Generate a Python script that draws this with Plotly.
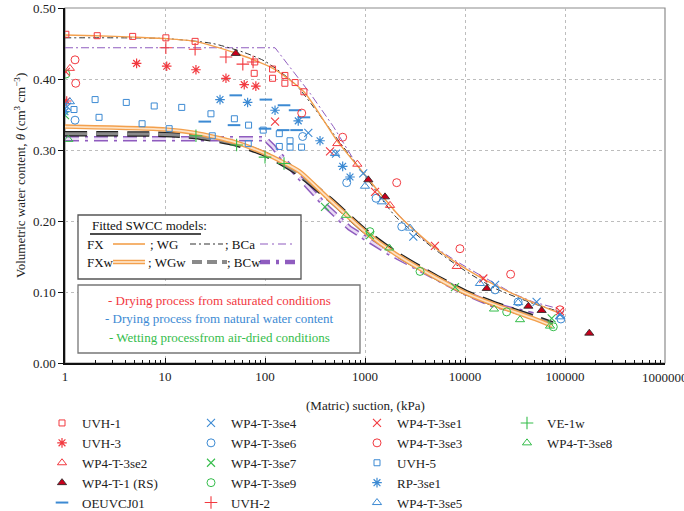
import plotly.graph_objects as go

# ---------------- data ----------------
uvh1_x = [1.02, 2.1, 4.75, 10.2, 20, 79, 78, 119, 119, 158, 158, 200, 245]
uvh1_y = [0.463, 0.461, 0.460, 0.458, 0.453, 0.424, 0.408, 0.414, 0.401, 0.405, 0.394, 0.395, 0.382]

uvh3_x = [1.04, 5.2, 10.4, 20.4, 40.7, 62, 81]
uvh3_y = [0.369, 0.422, 0.418, 0.413, 0.401, 0.392, 0.390]

se2_x = [1.12, 528, 838, 1780, 8260]
se2_y = [0.415, 0.309, 0.280, 0.222, 0.136]

rs_x = [51, 1080, 1585, 16500, 43000, 58400, 175000]
rs_y = [0.436, 0.258, 0.234, 0.105, 0.080, 0.074, 0.042]

oe_x = [25, 51, 49, 102, 100, 155, 152, 200, 207, 245]
oe_y = [0.340, 0.377, 0.335, 0.371, 0.330, 0.363, 0.328, 0.356, 0.328, 0.346]

se4_x = [1.05, 271, 513, 960, 3040, 20000, 52000, 89000]
se4_y = [0.361, 0.324, 0.295, 0.267, 0.178, 0.110, 0.086, 0.068]

se6_x = [1.26, 238, 656, 1290, 2330, 20000, 34000, 91000]
se6_y = [0.342, 0.319, 0.254, 0.232, 0.192, 0.103, 0.086, 0.062]

se7_x = [1.0, 398, 1120, 7940, 73600]
se7_y = [0.349, 0.220, 0.180, 0.107, 0.063]

se9_x = [1.02, 1120, 3550, 26100, 76400]
se9_y = [0.407, 0.185, 0.129, 0.072, 0.051]

uvh2_x = [10.2, 20, 40.7, 60, 76]
uvh2_y = [0.444, 0.442, 0.431, 0.421, 0.424]

se1_x = [1.02, 126, 447, 1260, 5000, 15250, 89000]
se1_y = [0.410, 0.340, 0.298, 0.241, 0.165, 0.119, 0.073]

se3_x = [1.26, 1.28, 233, 598, 2075, 8900, 28600, 89000]
se3_y = [0.427, 0.394, 0.352, 0.318, 0.254, 0.161, 0.125, 0.075]

uvh5_x = [1.23, 2.0, 2.19, 4.1, 5.9, 7.8, 11, 14.7, 28.8, 29.7, 49.4, 68.5, 68, 96, 139, 139, 178, 178, 232]
uvh5_y = [0.357, 0.371, 0.346, 0.367, 0.337, 0.362, 0.330, 0.360, 0.351, 0.320, 0.344, 0.335, 0.309, 0.328, 0.323, 0.305, 0.313, 0.304, 0.304]

rp_x = [1.0, 35.5, 67, 126, 215, 355, 598, 708]
rp_y = [0.354, 0.371, 0.367, 0.356, 0.341, 0.313, 0.277, 0.262]

se5_x = [1.12, 501, 1000, 1470, 2820, 14100, 34000, 89000]
se5_y = [0.368, 0.295, 0.249, 0.227, 0.190, 0.112, 0.085, 0.065]

ve_x = [20.4, 52, 100, 155]
ve_y = [0.320, 0.307, 0.290, 0.281]

se8_x = [1.08, 646, 1750, 19500, 35500, 70800]
se8_y = [0.315, 0.208, 0.162, 0.076, 0.061, 0.052]

# fitted SWCC curves
fx_x = [1, 2, 5, 10, 20, 50, 120, 245, 520, 1040, 2240, 4820, 10400, 22400, 48000, 89000]
fx_y = [0.462, 0.461, 0.459, 0.457, 0.453, 0.437, 0.415, 0.382, 0.314, 0.262, 0.206, 0.164, 0.132, 0.106, 0.085, 0.070]

wg_x = [1, 10, 30, 60, 100, 200, 500, 1000, 2000, 5000, 10000, 20000, 50000, 90000]
wg_y = [0.458, 0.457, 0.450, 0.438, 0.425, 0.393, 0.320, 0.264, 0.207, 0.160, 0.130, 0.105, 0.083, 0.072]

bca_x = [1, 126, 166, 282, 483, 830, 1000, 2000, 4000, 8260, 14100, 30000, 48000, 89000]
bca_y = [0.444, 0.444, 0.422, 0.380, 0.333, 0.279, 0.265, 0.213, 0.172, 0.143, 0.124, 0.098, 0.086, 0.076]

fxw_x = [1, 10, 20, 50, 100, 220, 414, 1000, 2000, 5000, 10000, 20000, 50000, 75000]
fxw_y = [0.333, 0.329, 0.324, 0.311, 0.295, 0.270, 0.234, 0.185, 0.154, 0.121, 0.099, 0.082, 0.062, 0.052]

wgw_x = [1, 10, 20, 50, 100, 200, 450, 1000, 2000, 5000, 10000, 20000, 50000, 75000]
wgw_y = [0.323, 0.322, 0.319, 0.309, 0.294, 0.270, 0.230, 0.186, 0.155, 0.122, 0.100, 0.083, 0.064, 0.055]

bcw_x = [1, 100, 120, 200, 400, 700, 1650, 4140, 9550, 19000, 48000]
bcw_y = [0.316, 0.316, 0.305, 0.268, 0.222, 0.190, 0.157, 0.126, 0.100, 0.082, 0.068]

x_tick_vals = [1, 10, 100, 1000, 10000, 100000, 1000000]
x_tick_text = ["1", "10", "100", "1000", "10000", "100000", "1000000"]
y_tick_vals = [0.0, 0.1, 0.2, 0.3, 0.4, 0.5]

# ---------------- styles ----------------
RED = "#f2393f"
BLUE = "#3c8ad3"
GREEN = "#35bd4b"
DARKRED = "#c8001c"
ORANGE = "#f3a04d"
ORANGE_L = "#fde2c4"
PURPLE = "#8f5cbf"
PURPLE_L = "#eadcf5"
FONT = "Liberation Serif"
W, H = 684, 511

fig = go.Figure()

def curve(x, y, color, width, dash="solid", shape="spline"):
    fig.add_trace(go.Scatter(x=x, y=y, mode="lines",
                             line=dict(color=color, width=width, dash=dash, shape=shape, smoothing=0.6),
                             showlegend=False, hoverinfo="skip"))

# wetting (thick outlined) curves
curve(bcw_x, bcw_y, PURPLE, 5.5, "14px,6px,3px,6px", "linear")
curve(bcw_x, bcw_y, PURPLE_L, 2.5, "14px,6px,3px,6px", "linear")
curve(wgw_x, wgw_y, "#222222", 5.5, "22px,9px")
curve(wgw_x, wgw_y, "#8a8a8a", 3, "22px,9px")
curve(fxw_x, fxw_y, ORANGE, 4.5)
curve(fxw_x, fxw_y, ORANGE_L, 1.8)
# drying curves
curve(bca_x, bca_y, PURPLE, 1, "8px,3px,2px,3px", "linear")
curve(wg_x, wg_y, "#333333", 1, "6px,3px,2px,3px")
curve(fx_x, fx_y, ORANGE, 1.4)

def pts(x, y, name, symbol, color, legend, size=7, lw=1.0, lcolor=None):
    fig.add_trace(go.Scatter(
        x=x, y=y, mode="markers", name=name, legend=legend,
        marker=dict(symbol=symbol, size=size, color=color,
                    line=dict(width=lw, color=lcolor if lcolor else color)),
    ))

# column 1
pts(uvh1_x, uvh1_y, "UVH-1", "square-open", RED, "legend", 6)
pts(uvh3_x, uvh3_y, "UVH-3", "asterisk-open", RED, "legend", 8, 1.2)
pts(se2_x, se2_y, "WP4-T-3se2", "triangle-up-open", RED, "legend", 8)
pts(rs_x, rs_y, "WP4-T-1 (RS)", "triangle-up", DARKRED, "legend", 8, 0.8, "#222222")
pts(oe_x, oe_y, "OEUVCJ01", "line-ew-open", BLUE, "legend", 9, 2)
# column 2
pts(se4_x, se4_y, "WP4-T-3se4", "x-thin-open", BLUE, "legend2", 8, 1.1)
pts(se6_x, se6_y, "WP4-T-3se6", "circle-open", BLUE, "legend2", 8)
pts(se7_x, se7_y, "WP4-T-3se7", "x-thin-open", GREEN, "legend2", 8, 1.1)
pts(se9_x, se9_y, "WP4-T-3se9", "circle-open", GREEN, "legend2", 8)
pts(uvh2_x, uvh2_y, "UVH-2", "cross-thin-open", RED, "legend2", 9, 1.1)
# column 3
pts(se1_x, se1_y, "WP4-T-3se1", "x-thin-open", RED, "legend3", 8, 1.1)
pts(se3_x, se3_y, "WP4-T-3se3", "circle-open", RED, "legend3", 8)
pts(uvh5_x, uvh5_y, "UVH-5", "square-open", BLUE, "legend3", 6)
pts(rp_x, rp_y, "RP-3se1", "asterisk-open", BLUE, "legend3", 8, 1.2)
pts(se5_x, se5_y, "WP4-T-3se5", "triangle-up-open", BLUE, "legend3", 8)
# column 4
pts(ve_x, ve_y, "VE-1w", "cross-thin-open", GREEN, "legend4", 9, 1.1)
pts(se8_x, se8_y, "WP4-T-3se8", "triangle-up-open", GREEN, "legend4", 8)

# ---------------- layout helpers (pixel -> paper) ----------------
L, R, T, B = 65, 665, 8, 363
def px(x):
    return (x - L) / (R - L)
def py(y):
    return (B - y) / (B - T)

shapes = []
annotations = []

# plot frame (gray top / right)
shapes.append(dict(type="rect", xref="paper", yref="paper", x0=0, x1=1, y0=0, y1=1,
                   line=dict(color="#8c8c8c", width=1.2), layer="below"))

# last x tick label (sits on the plot edge and runs past the page edge, as in the reference)
annotations.append(dict(x=1.0, y=py(377), xref="paper", yref="paper", text=x_tick_text[-1],
                        showarrow=False, xanchor="center", yanchor="middle", font=dict(size=13, color="#222")))

# axis titles
annotations.append(dict(x=px(365), y=py(405), xref="paper", yref="paper", text="(Matric) suction, (kPa)",
                        showarrow=False, xanchor="center", yanchor="middle", font=dict(size=13, color="#222")))
annotations.append(dict(x=px(20), y=py(176), xref="paper", yref="paper",
                        text="Volumetric water content, <i>θ</i> (cm<sup>3</sup> cm<sup>−3</sup>)",
                        textangle=-90, showarrow=False, xanchor="center", yanchor="middle",
                        font=dict(size=13, color="#222")))

# box 1: fitted models
shapes.append(dict(type="rect", xref="paper", yref="paper", x0=px(78), x1=px(301), y0=py(279), y1=py(215),
                   line=dict(color="#555555", width=1.3), fillcolor="white", layer="above"))
annotations.append(dict(x=px(90), y=py(225), xref="paper", yref="paper", text="Fitted SWCC models:",
                        showarrow=False, xanchor="left", yanchor="middle", font=dict(size=13, color="#111")))
shapes.append(dict(type="line", xref="paper", yref="paper", x0=px(90), x1=px(201), y0=py(234), y1=py(234),
                   line=dict(color="#111", width=1.4)))

row1, row2 = 244, 262
def txt(x, y, s):
    annotations.append(dict(x=px(x), y=py(y), xref="paper", yref="paper", text=s, showarrow=False,
                            xanchor="left", yanchor="middle", font=dict(size=13, color="#111")))
def sample(x0, x1, y, color, width, dash="solid"):
    shapes.append(dict(type="line", xref="paper", yref="paper", x0=px(x0), x1=px(x1), y0=py(y), y1=py(y),
                       line=dict(color=color, width=width, dash=dash)))

txt(85, row1, "FX")
sample(113, 145, row1, ORANGE, 1.6)
txt(148, row1, "; WG")
sample(190, 223, row1, "#333333", 1.1, "6px,3px,2px,3px")
txt(223, row1, "; BCa")
sample(260, 295, row1, PURPLE, 1.1, "8px,4px,2px,4px")

txt(85, row2, "FXw")
sample(113, 145, row2, ORANGE, 4.5)
sample(113, 145, row2, ORANGE_L, 1.8)
txt(146, row2, "; WGw")
sample(192, 227, row2, "#8a8a8a", 4, "10px,5px")
txt(225, row2, "; BCw")
sample(260, 297, row2, PURPLE, 4.5, "10px,6px,3px,6px")

# box 2: process descriptions
shapes.append(dict(type="rect", xref="paper", yref="paper", x0=px(78), x1=px(360), y0=py(353), y1=py(285),
                   line=dict(color="#777777", width=1.3), fillcolor="white", layer="above"))
for yy, s, c in [(300, "- Drying process from saturated conditions", RED),
                 (318.5, "- Drying process from natural water content", BLUE),
                 (337, "- Wetting processfrom air-dried conditions", GREEN)]:
    annotations.append(dict(x=px(219), y=py(yy), xref="paper", yref="paper", text=s, showarrow=False,
                            xanchor="center", yanchor="middle", font=dict(size=13, color=c)))

leg_common = dict(orientation="v", xref="container", yref="container", yanchor="top", y=1 - 408 / H,
                  xanchor="left", font=dict(size=13, family=FONT, color="#222"), bgcolor="rgba(0,0,0,0)",
                  itemsizing="trace", tracegroupgap=0)

fig.update_layout(
    width=W, height=H,
    margin=dict(l=L, r=W - R, t=T, b=H - B, autoexpand=False),
    paper_bgcolor="white", plot_bgcolor="white",
    font=dict(family=FONT, size=12, color="#222"),
    shapes=shapes, annotations=annotations,
    legend=dict(x=42 / W, **leg_common),
    legend2=dict(x=191 / W, **leg_common),
    legend3=dict(x=357 / W, **leg_common),
    legend4=dict(x=507 / W, **leg_common),
    xaxis=dict(type="log", range=[0, 6], tickvals=x_tick_vals[:-1], ticktext=x_tick_text[:-1],
               showgrid=True, gridcolor="#bdbdbd", griddash="dot", gridwidth=1,
               showline=True, linecolor="#111", linewidth=1.5, ticks="inside", ticklen=5,
               tickcolor="#111", zeroline=False, automargin=False, ticklabelstandoff=1,
               minor=dict(ticks="inside", ticklen=3, tickcolor="#111", showgrid=False, dtick="D1"),
               tickfont=dict(size=13)),
    yaxis=dict(range=[0, 0.5], tickvals=y_tick_vals, tickformat=".2f",
               showgrid=True, gridcolor="#bdbdbd", griddash="dot", gridwidth=1,
               showline=True, linecolor="#111", linewidth=1.5, ticks="outside", ticklen=5,
               tickcolor="#111", zeroline=False, automargin=False,
               tickfont=dict(size=13)),
)

fig.write_html("out.html", config={"displayModeBar": False},
               post_script="document.body.style.margin='0px';")
